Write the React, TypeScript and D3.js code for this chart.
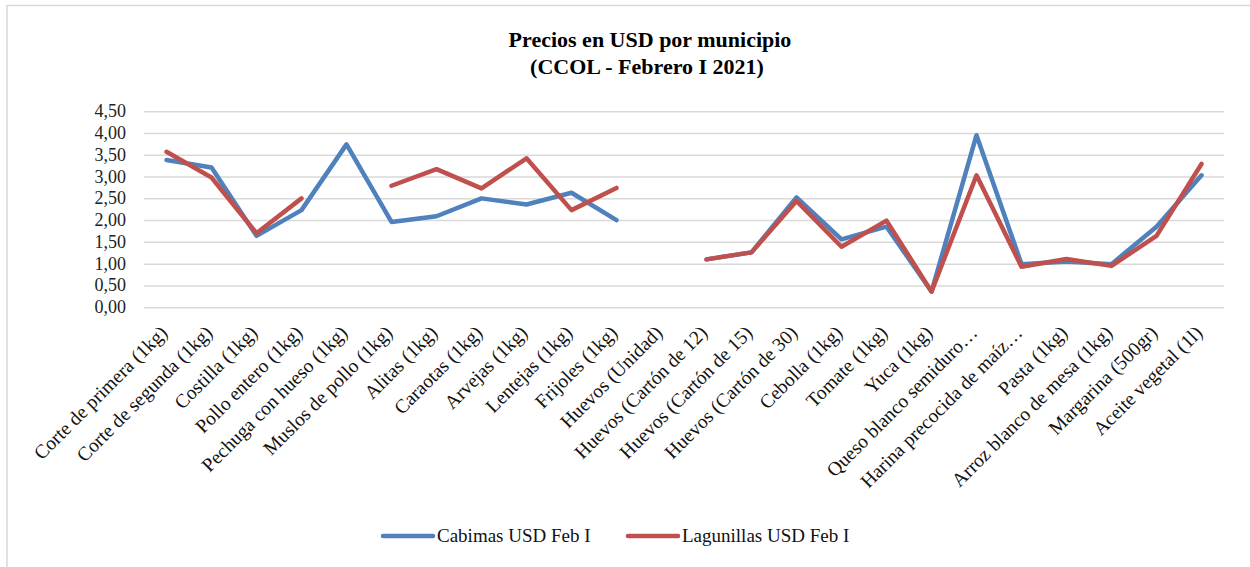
import React from "react";
import * as d3 from "d3";

const categories = [
  "Corte de primera (1kg)",
  "Corte de segunda (1kg)",
  "Costilla (1kg)",
  "Pollo entero (1kg)",
  "Pechuga con hueso (1kg)",
  "Muslos de pollo (1kg)",
  "Alitas (1kg)",
  "Caraotas (1kg)",
  "Arvejas (1kg)",
  "Lentejas (1kg)",
  "Frijoles (1kg)",
  "Huevos (Unidad)",
  "Huevos (Cartón de 12)",
  "Huevos (Cartón de 15)",
  "Huevos (Cartón de 30)",
  "Cebolla (1kg)",
  "Tomate (1kg)",
  "Yuca (1kg)",
  "Queso blanco semiduro…",
  "Harina precocida de maíz…",
  "Pasta (1kg)",
  "Arroz blanco de mesa (1kg)",
  "Margarina (500gr)",
  "Aceite vegetal (1l)",
];

const cabimas: (number | null)[] = [
  3.39, 3.22, 1.65, 2.24, 3.75, 1.97, 2.1, 2.51, 2.37, 2.64, 2.01, null,
  1.11, 1.27, 2.53, 1.57, 1.86, 0.37, 3.96, 1.0, 1.06, 1.0, 1.86, 3.04,
];

const lagunillas: (number | null)[] = [
  3.58, 2.99, 1.71, 2.51, null, 2.8, 3.18, 2.74, 3.43, 2.24, 2.75, null,
  1.11, 1.27, 2.45, 1.4, 2.0, 0.37, 3.04, 0.94, 1.12, 0.96, 1.65, 3.3,
];

const yTicks = [0, 0.5, 1, 1.5, 2, 2.5, 3, 3.5, 4, 4.5];

const seriesNames = ["Cabimas USD Feb I", "Lagunillas USD Feb I"];
const colors = ["#4F81BD", "#C0504D"];

const W = 1250;
const H = 567;
const left = 144;
const right = 1224;
const top = 111.7;
const bottom = 307.7;
const font = "Liberation Serif";

const App = () => {
  const x = d3
    .scaleBand()
    .domain(categories)
    .range([left, right]);
  const y = d3.scaleLinear().domain([0, 4.5]).range([bottom, top]);
  const fmt = (v: number) => d3.format(".2f")(v).replace(".", ",");

  const line = d3
    .line<number | null>()
    .defined(d => d !== null)
    .x((d, i) => (x(categories[i]) as number) + x.bandwidth() / 2)
    .y(d => y(d as number));

  const series = [cabimas, lagunillas];

  return (
    <svg
      width={W}
      height={H}
      style={{ position: "absolute", left: 0, top: 0, background: "#fff", fontFamily: font }}
    >
      <rect x={7} y={5.5} width={W + 20} height={H + 20} fill="#fff" stroke="#D9D9D9" strokeWidth={1.5} />
      <text x={650} y={47} textAnchor="middle" style={{ fontFamily: font }} fontWeight="bold" fontSize={22}>
        Precios en USD por municipio
      </text>
      <text x={647} y={74} textAnchor="middle" style={{ fontFamily: font }} fontWeight="bold" fontSize={22}>
        (CCOL - Febrero I 2021)
      </text>

      {yTicks.map(t => (
        <g key={t}>
          <line x1={left} x2={right} y1={y(t)} y2={y(t)} stroke="#D9D9D9" strokeWidth={1.5} />
          <text
            x={126}
            y={y(t) + 5.5}
            textAnchor="end"
            style={{ fontFamily: font }}
            fontSize={18}
            fill="#222"
          >
            {fmt(t)}
          </text>
        </g>
      ))}

      {categories.map(c => {
        const cx = (x(c) as number) + x.bandwidth() / 2 + 2;
        const cy = 334;
        return (
          <text
            key={c}
            transform={`translate(${cx},${cy}) rotate(-45)`}
            textAnchor="end"
            style={{ fontFamily: font }}
            fontSize={19.5}
            fill="#111"
          >
            {c}
          </text>
        );
      })}

      {series.map((s, i) => (
        <path
          key={i}
          d={line(s) || ""}
          fill="none"
          stroke={colors[i]}
          strokeWidth={4.5}
          strokeLinejoin="round"
          strokeLinecap="round"
        />
      ))}

      {seriesNames.map((n, i) => {
        const lx = 383 + i * 245;
        return (
          <g key={n}>
            <line x1={lx} x2={lx + 50} y1={536} y2={536} stroke={colors[i]} strokeWidth={4.5} strokeLinecap="round" />
            <text x={lx + 54} y={542} style={{ fontFamily: font }} fontSize={19} fill="#111">
              {n}
            </text>
          </g>
        );
      })}
    </svg>
  );
};

export default App;
